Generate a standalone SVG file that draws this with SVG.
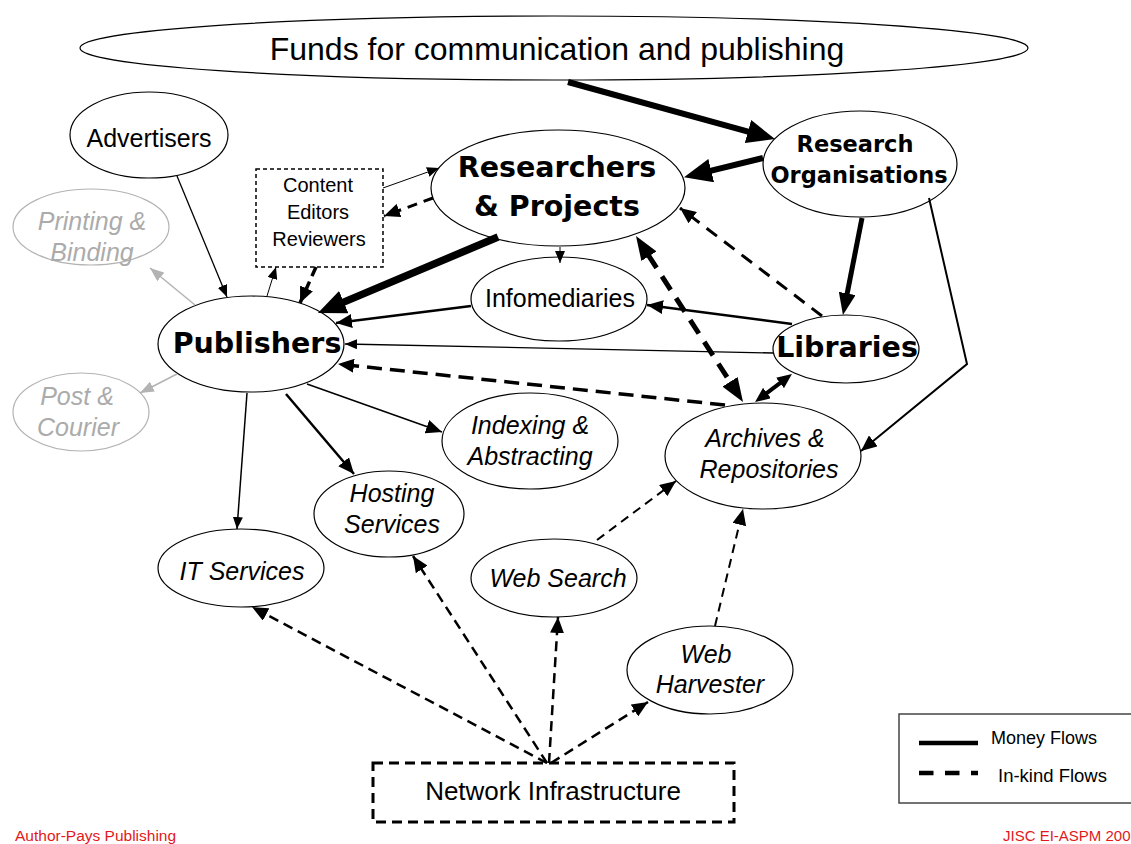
<svg xmlns="http://www.w3.org/2000/svg" width="1131" height="844" viewBox="0 0 1131 844">
<style>
.n{fill:#fff;stroke:#000;stroke-width:1.2}
.ng{fill:#fff;stroke:#b3b3b3;stroke-width:1.2}
.t{font-family:"Liberation Sans",Arial,sans-serif;font-size:25px;text-anchor:middle;fill:#000}
.i{font-style:italic}
.g{fill:#ababab}
.b{font-family:"DejaVu Sans",Verdana,sans-serif;font-weight:bold;font-size:28.5px;text-anchor:middle;fill:#000}
.c line,.c polyline{stroke:#000;fill:none}
.red{font-family:"Liberation Sans",Arial,sans-serif;font-size:15.5px;fill:#e2181b}
</style>
<defs>
<marker id="aS" viewBox="0 0 12 10" refX="12" refY="5" markerWidth="12" markerHeight="10" markerUnits="userSpaceOnUse" orient="auto"><path d="M0,0L12,5L0,10z" fill="#000"/></marker>
<marker id="aG" viewBox="0 0 14 11" refX="14" refY="5.5" markerWidth="14" markerHeight="11" markerUnits="userSpaceOnUse" orient="auto"><path d="M0,0L14,5.5L0,11z" fill="#b3b3b3"/></marker>
<marker id="aM" viewBox="0 0 16 14" refX="16" refY="7" markerWidth="16" markerHeight="14" markerUnits="userSpaceOnUse" orient="auto"><path d="M0,0L16,7L0,14z" fill="#000"/></marker>
<marker id="aL" viewBox="0 0 28 24" refX="2" refY="12" markerWidth="28" markerHeight="24" markerUnits="userSpaceOnUse" orient="auto"><path d="M0,0L28,12L0,24z" fill="#000"/></marker>
<marker id="aML" viewBox="0 0 22 17" refX="2" refY="8.5" markerWidth="22" markerHeight="17" markerUnits="userSpaceOnUse" orient="auto"><path d="M0,0L22,8.5L0,17z" fill="#000"/></marker>
<marker id="aDL" viewBox="0 0 24 18" refX="2" refY="9" markerWidth="24" markerHeight="18" markerUnits="userSpaceOnUse" orient="auto-start-reverse"><path d="M0,0L24,9L0,18z" fill="#000"/></marker>
<marker id="aD" viewBox="0 0 15 13" refX="2" refY="6.5" markerWidth="15" markerHeight="13" markerUnits="userSpaceOnUse" orient="auto-start-reverse"><path d="M0,0L15,6.5L0,13z" fill="#000"/></marker>
</defs>
<rect width="1131" height="844" fill="#fff"/>

<g id="funds"><ellipse class="n" cx="554" cy="48" rx="474" ry="32"/><text class="t" x="557" y="60" style="font-size:32px">Funds for communication and publishing</text></g>
<g id="advertisers"><ellipse class="n" cx="149" cy="135" rx="79" ry="43"/><text class="t" x="149" y="147">Advertisers</text></g>
<g id="printing"><ellipse class="ng" cx="91" cy="227" rx="78" ry="38"/><text class="t i g" x="92" y="230">Printing &amp;</text><text class="t i g" x="92" y="261">Binding</text></g>
<g id="content"><rect x="256" y="169" width="127" height="98" fill="#fff" stroke="#000" stroke-width="1.5" stroke-dasharray="4 3"/><text class="t" x="318" y="192" style="font-size:20px">Content</text><text class="t" x="318" y="219" style="font-size:20px">Editors</text><text class="t" x="319" y="246" style="font-size:20px">Reviewers</text></g>
<g id="researchers"><ellipse class="n" cx="558" cy="188" rx="127" ry="58"/><text class="b" x="557" y="177">Researchers</text><text class="b" x="557" y="216">&amp; Projects</text></g>
<g id="research-orgs"><ellipse class="n" cx="860" cy="164" rx="97" ry="53"/><text class="b" x="855" y="152" style="font-size:22.5px">Research</text><text class="b" x="859" y="183" style="font-size:22.5px">Organisations</text></g>
<g id="infomediaries"><ellipse class="n" cx="559" cy="299" rx="88" ry="42"/><text class="t" x="560" y="307">Infomediaries</text></g>
<g id="libraries"><ellipse class="n" cx="846" cy="349" rx="73" ry="34"/><text class="b" x="847" y="357">Libraries</text></g>
<g id="publishers"><ellipse class="n" cx="251" cy="344" rx="93" ry="48"/><text class="b" x="257" y="353">Publishers</text></g>
<g id="post"><ellipse class="ng" cx="81" cy="412" rx="68" ry="39"/><text class="t i g" x="77" y="405">Post &amp;</text><text class="t i g" x="78" y="436">Courier</text></g>
<g id="indexing"><ellipse class="n" cx="530" cy="441" rx="88" ry="48"/><text class="t i" x="530" y="434">Indexing &amp;</text><text class="t i" x="530" y="465">Abstracting</text></g>
<g id="archives"><ellipse class="n" cx="763" cy="456" rx="98" ry="53"/><text class="t i" x="765" y="447">Archives &amp;</text><text class="t i" x="769" y="478">Repositories</text></g>
<g id="hosting"><ellipse class="n" cx="389" cy="514" rx="75" ry="43"/><text class="t i" x="392" y="502">Hosting</text><text class="t i" x="392" y="533">Services</text></g>
<g id="it-services"><ellipse class="n" cx="241" cy="568" rx="83" ry="39"/><text class="t i" x="242" y="580">IT Services</text></g>
<g id="web-search"><ellipse class="n" cx="554" cy="578" rx="83" ry="39"/><text class="t i" x="558" y="587">Web Search</text></g>
<g id="web-harvester"><ellipse class="n" cx="710" cy="670" rx="83" ry="44"/><text class="t i" x="706" y="663">Web</text><text class="t i" x="710" y="693">Harvester</text></g>
<g id="network"><rect x="373" y="763" width="361" height="59" fill="#fff" stroke="#000" stroke-width="3" stroke-dasharray="10 6"/><text class="t" x="553" y="800" style="font-size:26px">Network Infrastructure</text></g>

<g id="connectors" class="c">
<line x1="568" y1="82" x2="749.9" y2="132.1" stroke-width="6" marker-end="url(#aL)"/>
<line x1="763" y1="158" x2="709.3" y2="171.1" stroke-width="6" marker-end="url(#aL)"/>
<line x1="862" y1="218" x2="846.8" y2="295.4" stroke-width="5" marker-end="url(#aML)"/>
<line x1="498" y1="237" x2="341.9" y2="302.9" stroke-width="7.5" marker-end="url(#aL)"/>
<line x1="647.9" y1="254.5" x2="731.1" y2="383.5" stroke-width="5" stroke-dasharray="16 10" marker-start="url(#aDL)" marker-end="url(#aDL)"/>
<line x1="765.4" y1="394.2" x2="781.6" y2="381.8" stroke-width="4" marker-start="url(#aD)" marker-end="url(#aD)"/>
<line x1="792" y1="324" x2="647" y2="305" stroke-width="2.5" marker-end="url(#aM)"/>
<line x1="471" y1="306" x2="336" y2="323" stroke-width="2.5" marker-end="url(#aM)"/>
<line x1="773" y1="353" x2="345" y2="344" stroke-width="1.3" marker-end="url(#aS)"/>
<line x1="725" y1="405" x2="338" y2="364" stroke-width="3.5" stroke-dasharray="15 8" marker-end="url(#aM)"/>
<line x1="822" y1="316" x2="680" y2="208" stroke-width="3" stroke-dasharray="13 9" marker-end="url(#aM)"/>
<polyline points="929,198 967,364 861,451" stroke-width="2" marker-end="url(#aM)"/>
<line x1="560" y1="247" x2="560" y2="263" stroke-width="1" marker-end="url(#aS)"/>
<line x1="383" y1="188" x2="439" y2="168" stroke-width="1" marker-end="url(#aS)"/>
<line x1="433" y1="198" x2="384" y2="216" stroke-width="3" stroke-dasharray="10 7" marker-end="url(#aM)"/>
<line x1="316" y1="267" x2="300" y2="303" stroke-width="3.5" stroke-dasharray="10 6" marker-end="url(#aM)"/>
<line x1="267" y1="296" x2="276" y2="267" stroke-width="1" marker-end="url(#aS)"/>
<line x1="177" y1="176" x2="227" y2="297" stroke-width="1.3" marker-end="url(#aS)"/>
<line x1="195" y1="305" x2="150" y2="268" stroke="#b3b3b3" style="stroke:#b3b3b3" stroke-width="1.5" marker-end="url(#aG)"/>
<line x1="177" y1="374" x2="140" y2="393" style="stroke:#b3b3b3" stroke-width="1.5" marker-end="url(#aG)"/>
<line x1="247" y1="393" x2="237" y2="529" stroke-width="1.5" marker-end="url(#aS)"/>
<line x1="286" y1="394" x2="354" y2="474" stroke-width="2.5" marker-end="url(#aM)"/>
<line x1="307" y1="384" x2="442" y2="432" stroke-width="1.5" marker-end="url(#aM)"/>
<line x1="597" y1="540" x2="676" y2="481" stroke-width="2" stroke-dasharray="9 6" marker-end="url(#aM)"/>
<line x1="715" y1="626" x2="743" y2="509" stroke-width="2" stroke-dasharray="9 6" marker-end="url(#aM)"/>
<line x1="547" y1="763" x2="252" y2="607" stroke-width="2.5" stroke-dasharray="10 6" marker-end="url(#aM)"/>
<line x1="547" y1="763" x2="413" y2="556" stroke-width="2.5" stroke-dasharray="10 6" marker-end="url(#aM)"/>
<line x1="549" y1="763" x2="558" y2="617" stroke-width="2.5" stroke-dasharray="10 6" marker-end="url(#aM)"/>
<line x1="551" y1="763" x2="648" y2="702" stroke-width="2.5" stroke-dasharray="10 6" marker-end="url(#aM)"/>
</g>

<g id="legend">
<rect x="899" y="714" width="240" height="89" fill="#fff" stroke="#444" stroke-width="1.5"/>
<line x1="919" y1="743" x2="978" y2="743" stroke="#000" stroke-width="4.5"/>
<line x1="919" y1="773" x2="978" y2="773" stroke="#000" stroke-width="4.5" stroke-dasharray="14.5 11.5"/>
<text class="t" x="991" y="744" style="font-size:18px;text-anchor:start">Money Flows</text>
<text class="t" x="998" y="782" style="font-size:18.5px;text-anchor:start">In-kind Flows</text>
</g>
<text class="red" x="15" y="841">Author-Pays Publishing</text>
<text class="red" x="1003" y="841" style="font-size:15px">JISC EI-ASPM 200</text>
</svg>
